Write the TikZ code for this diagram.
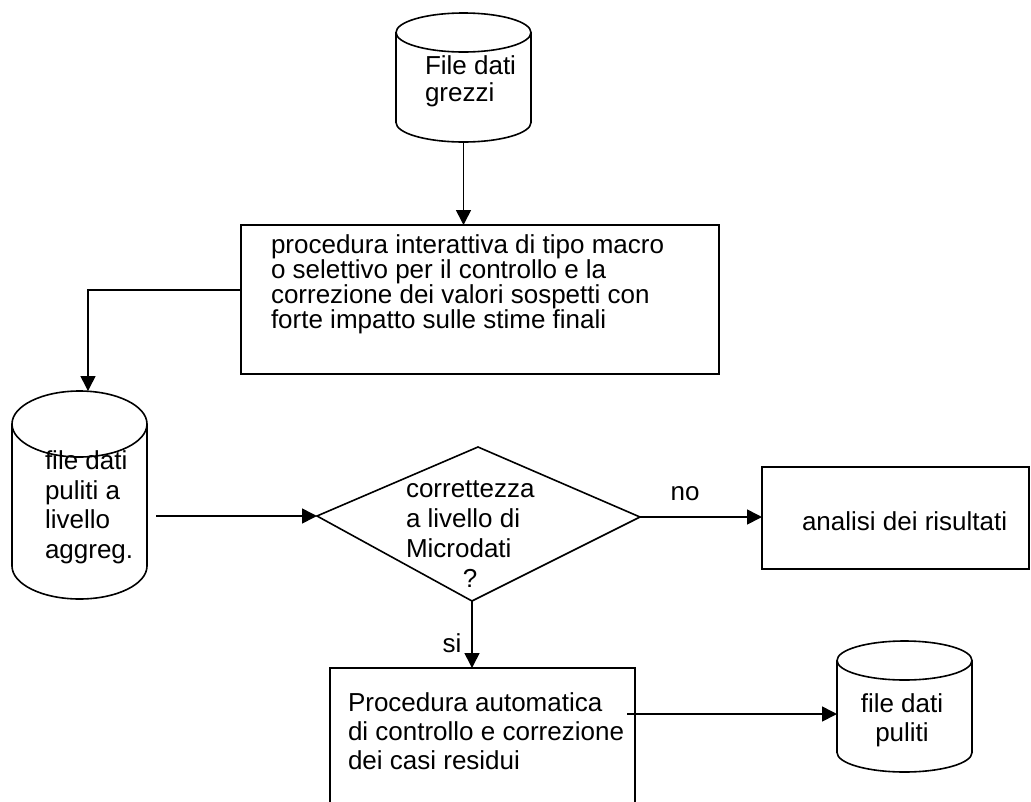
\documentclass[tikz,border=0pt]{standalone}
\usepackage{fontspec}
\setmainfont{Liberation Sans}
\usetikzlibrary{arrows.meta}

% Outline of a data store (drum) drawn around an invisible rectangular node:
% #1 node name, #2 x radius of the end ellipses, #3 y radius of the end ellipses
\newcommand\drawdrum[3]{%
  \draw ([yshift=-#3]#1.north west) -- ([yshift=#3]#1.south west)
    arc[start angle=180, end angle=360, x radius=#2, y radius=#3]
    -- ([yshift=-#3]#1.north east);
  \draw ([yshift=-#3]#1.north) ellipse [x radius=#2, y radius=#3];
}

\begin{document}
\begin{tikzpicture}[x=1pt, y=-1pt, line width=1.6pt,
  every node/.style={inner sep=0pt, outer sep=0pt},
  procbox/.style={draw, rectangle, anchor=north west},
  drum/.style={rectangle, anchor=north west, minimum width=135pt},
  txt/.style={anchor=north west, align=left},
  flow/.style={-{Triangle[length=15pt, width=15pt]}}
]
\useasboundingbox (0,0) rectangle (1031,801);
\clip (0,0) rectangle (1031,801);

% data stores
\node[drum, minimum height=129pt] (raw) at (396,13) {};
\drawdrum{raw}{67.5pt}{19.5pt}
\node[drum, minimum height=208pt] (aggr) at (12,391) {};
\drawdrum{aggr}{67.5pt}{33pt}
\node[drum, minimum height=131pt] (clean) at (837,641) {};
\drawdrum{clean}{67.5pt}{19.5pt}

% process boxes
\node[procbox, minimum width=478pt, minimum height=149pt] (macro) at (241,225) {};
\node[procbox, minimum width=267pt, minimum height=102pt] (analysis) at (762,467) {};
\node[procbox, minimum width=305pt, minimum height=170pt] (auto) at (330,668) {};

% decision
\coordinate (dn) at (478,447);
\coordinate (dw) at (317,516);
\coordinate (de) at (640,517);
\coordinate (ds) at (472,601);
\draw (dn) -- (de) -- (ds) -- (dw) -- cycle;

% texts
\node[txt, font=\fontsize{26}{27}\selectfont] (rawtxt) at (425,56) {File dati\\grezzi};
\node[txt, font=\fontsize{26}{25}\selectfont] (macrotxt) at (271,235)
  {procedura interattiva di tipo macro\\o selettivo per il controllo e la\\correzione dei valori sospetti con\\forte impatto sulle stime finali};
\node[txt, font=\fontsize{26}{29.5}\selectfont] (aggrtxt) at (45,451)
  {file dati\\puliti a\\livello\\aggreg.};
\node[txt, font=\fontsize{26}{30}\selectfont] (dectxt) at (406,481)
  {correttezza\\a livello di\\Microdati\\\hbox to 128pt{\hfil ?\hfil}};
\node[anchor=base west, font=\fontsize{26}{30}\selectfont] (analysistxt) at (802,530) {analisi dei risultati};
\node[txt, font=\fontsize{26}{29}\selectfont] (autotxt) at (348,693)
  {Procedura automatica\\di controllo e correzione\\dei casi residui};
\node[anchor=north, align=center, font=\fontsize{26}{29}\selectfont] (cleantxt) at (902,694)
  {file dati\\puliti};

% branch labels
\node[anchor=base, font=\fontsize{26}{30}\selectfont] (lno) at (685,500) {no};
\node[anchor=base, font=\fontsize{26}{30}\selectfont] (lsi) at (452,652) {si};

% connectors
\coordinate (aggrout) at (156,516);
\coordinate (autoout) at (627,714);
\draw[flow] (raw.south) -- (raw.south |- macro.north);
\draw[flow] ([yshift=9.5pt]macro.west) -| ([xshift=8.5pt]aggr.north);
\draw[flow] (aggrout) -- (dw);
\draw[flow] (de) -- (de -| analysis.west);
\draw[flow] (ds) -- (ds |- auto.north);
\draw[flow] (autoout) -- (autoout -| clean.west);
\end{tikzpicture}
\end{document}
